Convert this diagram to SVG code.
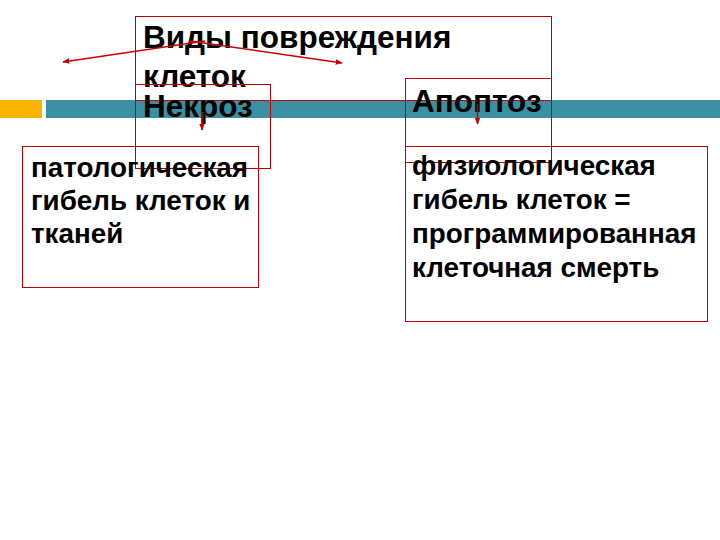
<svg xmlns="http://www.w3.org/2000/svg" width="720" height="540" viewBox="0 0 720 540">
<defs>
<marker id="ah" viewBox="0 0 10 10" refX="9" refY="5" markerWidth="7" markerHeight="7" markerUnits="userSpaceOnUse" orient="auto">
<path d="M0,1 L10,5 L0,9 Z" fill="#CC0000"/>
</marker>
<style>
.box{fill:none;stroke:#C00000;stroke-width:1}
.h{font-family:"Liberation Sans",Arial,sans-serif;font-weight:bold;font-size:31.5px;fill:#000}
.b{font-family:"Liberation Sans",Arial,sans-serif;font-weight:bold;font-size:27.8px;fill:#000}
.con{stroke:#CC0000;stroke-width:1.5;fill:none;marker-end:url(#ah)}
</style>
</defs>
<rect width="720" height="540" fill="#FFFFFF"/>
<g id="band">
<rect x="0" y="100" width="42" height="18" fill="#F9B400"/>
<rect x="46" y="100" width="674" height="18" fill="#3A8FA3"/>
</g>
<g id="title">
<rect class="box" x="135.5" y="16.5" width="416" height="84"/>
<text class="h" x="143" y="48">Виды повреждения</text>
<text class="h" x="143" y="87">клеток</text>
</g>
<g id="necrosis">
<rect class="box" x="135.5" y="84.5" width="135" height="84"/>
<text class="h" x="143" y="117">Некроз</text>
</g>
<g id="apoptosis">
<rect class="box" x="405.5" y="78.5" width="146" height="84"/>
<text class="h" x="412" y="112">Апоптоз</text>
</g>
<g id="necrosis-def">
<rect class="box" x="22.5" y="146.5" width="236" height="141"/>
<text class="b" x="31" y="177">патологическая</text>
<text class="b" x="31" y="210">гибель клеток и</text>
<text class="b" x="31" y="243">тканей</text>
</g>
<g id="apoptosis-def">
<rect class="box" x="405.5" y="146.5" width="302" height="175"/>
<text class="b" x="412" y="175">физиологическая</text>
<text class="b" x="412" y="209">гибель клеток =</text>
<text class="b" x="412" y="243">программированная</text>
<text class="b" x="412" y="277">клеточная смерть</text>
</g>
<g id="connectors">
<line class="con" x1="205" y1="41" x2="63" y2="62"/>
<line class="con" x1="190" y1="41" x2="342" y2="63"/>
<line class="con" x1="202" y1="112" x2="202" y2="130"/>
<line class="con" x1="477.5" y1="104" x2="477.5" y2="124"/>
</g>
</svg>
